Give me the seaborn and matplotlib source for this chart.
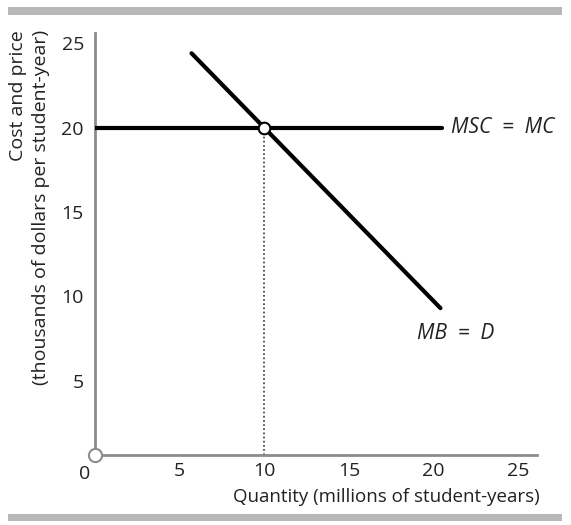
import matplotlib
matplotlib.use("Agg")
import matplotlib.pyplot as plt
from matplotlib.patches import Rectangle
import seaborn as sns
import pandas as pd

# Data
mb_x = [5.7, 20.4]
mb_y = [24.4, 9.3]
msc_x = [0.0, 20.5]
msc_y = [20.0, 20.0]
eq_x = [10.0]
eq_y = [20.0]
x_ticks = [5, 10, 15, 20, 25]
y_ticks = [5, 10, 15, 20, 25]

sns.set_theme(style="white")
plt.rcParams['font.family'] = ['Open Sans', 'DejaVu Sans']

fig = plt.figure(figsize=(5.71, 5.25), dpi=100)
ax = fig.add_axes([95/571, 70/525, (537-95)/571, (455-33)/525])

mb = pd.DataFrame({"x": mb_x, "y": mb_y})
msc = pd.DataFrame({"x": msc_x, "y": msc_y})
eq = pd.DataFrame({"x": eq_x, "y": eq_y})

ax.plot([eq_x[0], eq_x[0]], [0.6, eq_y[0]], color="#333333", lw=1.2, ls=(0, (1, 1.5)), zorder=2)
sns.lineplot(data=msc, x="x", y="y", ax=ax, color="black", lw=3, zorder=3)
sns.lineplot(data=mb, x="x", y="y", ax=ax, color="black", lw=3, zorder=3)
sns.scatterplot(data=eq, x="x", y="y", ax=ax, s=70, color="white", edgecolor="black", linewidth=1.5, zorder=5)

ax.set_xlim(0, 26.1)
ax.set_ylim(0.6, 25.6)
ax.set_xticks(x_ticks)
ax.set_yticks(y_ticks)
ax.set_xticklabels([str(t) for t in x_ticks])
ax.set_yticklabels([str(t) for t in y_ticks])
ax.set_xlabel("")
ax.set_ylabel("")

for s in ["top", "right"]:
    ax.spines[s].set_visible(False)
for s in ["left", "bottom"]:
    ax.spines[s].set_color("#8c8c8c")
    ax.spines[s].set_linewidth(2)
ax.tick_params(axis="both", direction="in", length=5, width=1.5, color="#8c8c8c",
               labelsize=14, labelcolor="#222222")
ax.tick_params(axis="y", pad=8)
ax.tick_params(axis="x", pad=5)

# origin marker and 0 label
ax.scatter([0], [0], transform=ax.transAxes, s=90, facecolor="white", edgecolor="#8c8c8c",
           linewidth=1.5, zorder=6, clip_on=False)
ax.text(-0.01, -0.045, "0", transform=ax.transAxes, ha="right", va="center", fontsize=14, color="#222222")

ax.text(21.0, 20.0, "MSC  =  MC", fontsize=15, fontstyle="italic", va="center", ha="left", color="#222222")
ax.text(19.0, 7.8, "MB  =  D", fontsize=15, fontstyle="italic", va="center", ha="left", color="#222222")

fig.text(540/571, 1 - 497/525, "Quantity (millions of student-years)", ha="right", va="center",
         fontsize=13.5, color="#222222")
fig.text(18/571, 1 - 30/525, "Cost and price", rotation=90, ha="center", va="top",
         fontsize=14, color="#222222")
fig.text(41/571, 1 - 30/525, "(thousands of dollars per student-year)", rotation=90, ha="center", va="top",
         fontsize=14, color="#222222")

fig.patches.append(Rectangle((8/571, 1 - 15/525), (562-8)/571, 8/525, transform=fig.transFigure,
                             facecolor="#b8b8b8", edgecolor="none"))
fig.patches.append(Rectangle((8/571, 1 - 521/525), (562-8)/571, 7/525, transform=fig.transFigure,
                             facecolor="#b8b8b8", edgecolor="none"))

fig.savefig("out.png", dpi=100)
